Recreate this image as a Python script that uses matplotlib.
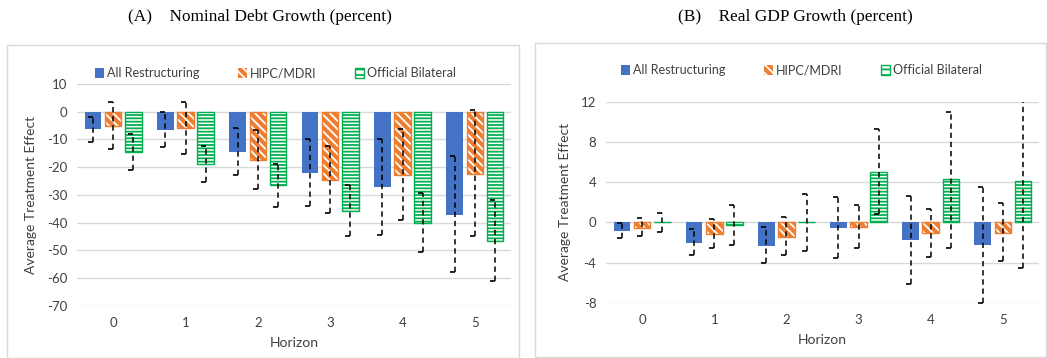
import matplotlib
matplotlib.use("Agg")
import matplotlib.pyplot as plt
from matplotlib.patches import Rectangle, Patch
from matplotlib.path import Path
import numpy as np

plt.rcParams['axes.unicode_minus'] = False
plt.rcParams['hatch.linewidth'] = 1.3
plt.rcParams['font.family'] = ['Lato', 'DejaVu Sans']

horizons = ['0', '1', '2', '3', '4', '5']
series = ['All Restructuring', 'HIPC/MDRI', 'Official Bilateral']

# Panel A: Nominal debt growth
debt_all = [-6.4, -6.6, -14.6, -22.0, -27.3, -37.1]
debt_hipc = [-5.2, -6.0, -17.3, -24.5, -22.9, -22.3]
debt_bil = [-14.7, -18.9, -26.6, -35.8, -40.0, -46.6]
debt_all_hi = [-1.8, 0.0, -5.8, -9.8, -9.8, -15.9]
debt_all_lo = [-11.0, -12.9, -23.0, -34.0, -44.5, -58.0]
debt_hipc_hi = [3.4, 3.4, -6.6, -12.2, -6.4, 0.7]
debt_hipc_lo = [-13.6, -15.1, -28.0, -36.4, -39.2, -44.9]
debt_bil_hi = [-8.1, -12.2, -18.7, -26.5, -29.3, -31.9]
debt_bil_lo = [-21.1, -25.5, -34.5, -44.8, -50.7, -61.2]

# Panel B: Real GDP growth
gdp_all = [-0.83, -2.0, -2.3, -0.5, -1.76, -2.22]
gdp_hipc = [-0.53, -1.1, -1.4, -0.43, -1.03, -1.0]
gdp_bil = [0.06, -0.23, 0.06, 5.04, 4.28, 4.11]
gdp_all_hi = [-0.1, -0.63, -0.43, 2.55, 2.6, 3.55]
gdp_all_lo = [-1.5, -3.2, -4.0, -3.5, -6.1, -7.95]
gdp_hipc_hi = [0.46, 0.36, 0.56, 1.7, 1.36, 1.9]
gdp_hipc_lo = [-1.36, -2.55, -3.25, -2.5, -3.4, -3.8]
gdp_bil_hi = [0.96, 1.76, 2.8, 9.25, 11.0, 12.7]
gdp_bil_lo = [-0.96, -2.2, -2.8, 0.83, -2.5, -4.5]

BLUE = '#4472C4'
ORANGE = '#ED7D31'
GREEN = '#00B050'
GRID = '#D9D9D9'
TXT = '#404040'

half_cap = Path([(-1.0, 0.0), (0.0, 0.0)], [Path.MOVETO, Path.LINETO])

fig = plt.figure(figsize=(10.47, 3.58), dpi=100)

# panel frames
fig.add_artist(Rectangle((7/1047, 0.0), 512/1047, 1 - 45/358, transform=fig.transFigure,
                         fill=False, edgecolor=GRID, lw=1))
fig.add_artist(Rectangle((535/1047, 1/358), 511/1047, 1 - 44/358, transform=fig.transFigure,
                         fill=False, edgecolor=GRID, lw=1))

fig.text(260/1047, 1 - 17/358, '(A)    Nominal Debt Growth (percent)', ha='center', va='center',
         family='Liberation Serif', fontsize=12.4)
fig.text(795/1047, 1 - 17/358, '(B)    Real GDP Growth (percent)', ha='center', va='center',
         family='Liberation Serif', fontsize=12.4)

axA = fig.add_axes([77/1047, 0.1461, 434/1047, 0.6193])
axB = fig.add_axes([606/1047, 0.1536, 433/1047, 0.5623])


def draw(ax, vals, his, los, ylim, yticks, leg_anchor):
    x = np.arange(len(horizons))
    off = 0.28
    w = 0.23
    ax.set_axisbelow(True)
    for i, (v, hi, lo) in enumerate(zip(vals, his, los)):
        xi = x + (i - 1) * off
        v = np.array(v)
        if i == 0:
            ax.bar(xi, v, w, color=BLUE, zorder=2)
        elif i == 1:
            ax.bar(xi, v, w, color=ORANGE, edgecolor='white', hatch='\\\\\\\\', lw=0, zorder=2)
            ax.bar(xi, v, w, fill=False, edgecolor=ORANGE, lw=1.0, zorder=2)
        else:
            ax.bar(xi, v, w, color='white', edgecolor=GREEN, hatch='-----', lw=1.0, zorder=2)
        yerr = [v - np.array(lo), np.array(hi) - v]
        eb = ax.errorbar(xi, v, yerr=yerr, fmt='none', ecolor='black', elinewidth=1.1,
                         capsize=0, zorder=3)
        eb[2][0].set_linestyle((0, (3.5, 2.5)))
        for ends in (hi, lo):
            ax.plot(xi, ends, linestyle='none', marker=half_cap, markersize=7,
                    markeredgewidth=1.2, color='black', zorder=3)
    ax.set_xlim(-0.5, 5.5)
    ax.set_ylim(*ylim)
    ax.set_yticks(yticks)
    ax.set_yticklabels([str(t) for t in yticks])
    ax.set_xticks(x)
    ax.set_xticklabels(horizons)
    ax.tick_params(length=0, labelsize=9.5, colors=TXT, pad=8)
    ax.tick_params(axis='y', pad=7)
    ax.yaxis.grid(True, color=GRID, lw=1)
    for s in ax.spines.values():
        s.set_visible(False)
    ax.set_xlabel('Horizon', fontsize=10, color=TXT, labelpad=6)
    ax.set_ylabel('Average Treatment Effect', fontsize=10, color=TXT, labelpad=7)
    handles = [Patch(facecolor=BLUE),
               Patch(facecolor=ORANGE, edgecolor='white', hatch='\\\\\\\\', lw=0),
               Patch(facecolor='white', edgecolor=GREEN, hatch='---', lw=1)]
    ax.legend(handles, series, ncol=3, frameon=False, fontsize=9, loc='lower left',
              bbox_to_anchor=leg_anchor, handlelength=0.75, handleheight=0.75,
              handletextpad=0.2, columnspacing=3.1, labelcolor=TXT)


draw(axA, [debt_all, debt_hipc, debt_bil], [debt_all_hi, debt_hipc_hi, debt_bil_hi],
     [debt_all_lo, debt_hipc_lo, debt_bil_lo], (-70, 10), list(range(10, -71, -10)),
     (0.015, 0.97))
draw(axB, [gdp_all, gdp_hipc, gdp_bil], [gdp_all_hi, gdp_hipc_hi, gdp_bil_hi],
     [gdp_all_lo, gdp_hipc_lo, gdp_bil_lo], (-8, 12), [12, 8, 4, 0, -4, -8],
     (0.008, 1.07))

fig.savefig('out.png', dpi=100)
